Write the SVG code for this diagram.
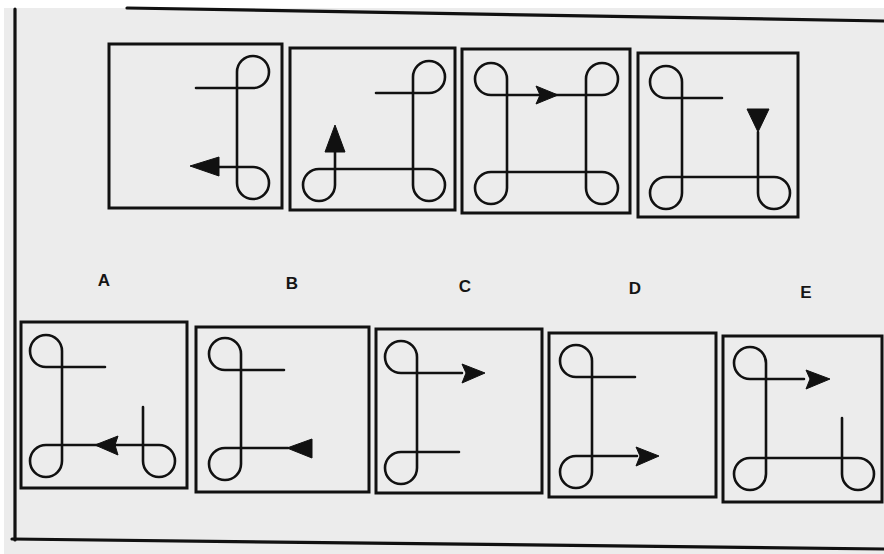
<svg xmlns="http://www.w3.org/2000/svg" width="884" height="554" viewBox="0 0 884 554">
<style>
.box{fill:none;stroke:#111;stroke-width:3}
.fig{fill:none;stroke:#111;stroke-width:2.6;stroke-linecap:round;stroke-linejoin:round}
.ah{fill:#111;stroke:#111;stroke-width:1;stroke-linejoin:round}
.frame{fill:none;stroke:#111;stroke-width:3.2;stroke-linecap:round}
.lbl{font-family:"Liberation Sans",Arial,sans-serif;font-weight:bold;font-size:17px;fill:#151515;text-anchor:middle}
</style>
<rect x="0" y="0" width="884" height="554" fill="#ffffff"/>
<rect x="4" y="8" width="880" height="546" fill="#ececec"/>
<g id="frame">
<path class="frame" d="M15 9 V540"/>
<path class="frame" d="M127 8 L884 21"/>
<path class="frame" d="M12 539 L884 549"/>
</g>
<g id="labels">
<text class="lbl" x="104" y="286">A</text>
<text class="lbl" x="292" y="289">B</text>
<text class="lbl" x="465" y="292">C</text>
<text class="lbl" x="635" y="294">D</text>
<text class="lbl" x="806" y="298">E</text>
</g>
<g id="connectors"></g>
<g id="t1">
<rect class="box" x="109" y="44" width="173" height="164"/>
<path class="fig" d="M196 88 H253 A16 16 0 1 0 237 72 V183 A16 16 0 1 0 253 167 H215"/>
<polygon class="ah" points="190,166 219,157 219,176"/>
</g>
<g id="t2">
<rect class="box" x="290" y="48" width="165" height="162"/>
<path class="fig" d="M376 93 H429 A16 16 0 1 0 413 77 V185 A16 16 0 1 0 429 169 H319 A16 16 0 1 0 335 185 V152"/>
<polygon class="ah" points="335,125 325,152 345,152"/>
</g>
<g id="t3">
<rect class="box" x="462" y="49" width="168" height="164"/>
<path class="fig" d="M491 95 H602 A16 16 0 1 0 586 79 V188 A16 16 0 1 0 602 172 H491 A16 16 0 1 0 507 188 V79 A16 16 0 1 0 491 95 Z"/>
<polygon class="ah" points="558,95 536,86 540,95 536,104"/>
</g>
<g id="t4">
<rect class="box" x="638" y="53" width="160" height="164"/>
<path class="fig" d="M722 98 H666 A16 16 0 1 1 682 82 V193 A16 16 0 1 1 666 177 H774 A16 16 0 1 1 758 193 V132"/>
<polygon class="ah" points="747,109 769,109 758,132"/>
</g>
<g id="a">
<rect class="box" x="21" y="322" width="166" height="166"/>
<path class="fig" d="M105 367 H46 A16 16 0 1 1 62 351 V461 A16 16 0 1 1 46 445 H159 A16 16 0 1 1 143 461 V407"/>
<polygon class="ah" points="95,445 118,436 115,445 118,455"/>
</g>
<g id="b">
<rect class="box" x="196" y="327" width="173" height="165"/>
<path class="fig" d="M284 370 H225 A16 16 0 1 1 241 354 V464 A16 16 0 1 1 225 448 H288"/>
<polygon class="ah" points="287,448 312,439 312,458"/>
</g>
<g id="c">
<rect class="box" x="376" y="329" width="166" height="164"/>
<path class="fig" d="M462 373 H401 A16 16 0 1 1 417 357 V468 A16 16 0 1 1 401 452 H459"/>
<polygon class="ah" points="485,373 462,364 466,373 462,383"/>
</g>
<g id="d">
<rect class="box" x="549" y="333" width="167" height="164"/>
<path class="fig" d="M635 377 H576 A16 16 0 1 1 592 361 V472 A16 16 0 1 1 576 456 H637"/>
<polygon class="ah" points="659,456 636,447 640,456 636,466"/>
</g>
<g id="e">
<rect class="box" x="723" y="336" width="159" height="166"/>
<path class="fig" d="M804 379 H750 A16 16 0 1 1 766 363 V474 A16 16 0 1 1 750 458 H858 A16 16 0 1 1 842 474 V418"/>
<polygon class="ah" points="830,379 806,370 810,379 806,389"/>
</g>
</svg>
